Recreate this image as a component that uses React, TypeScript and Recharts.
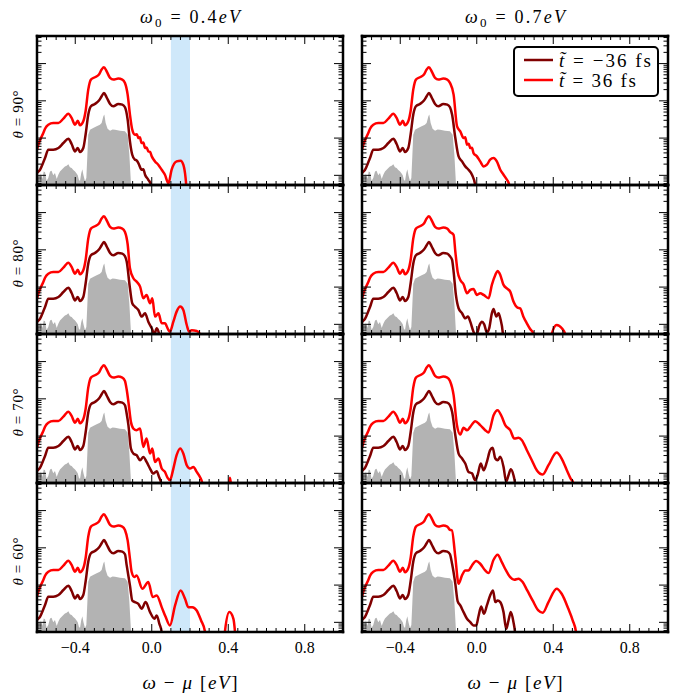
import React from 'react';
import { ComposedChart, Line, Area, XAxis, YAxis, ReferenceArea } from 'recharts';

// ---------- axes ----------
const X_DOMAIN: [number, number] = [-0.6, 1.0];
const X_MAJOR = [-0.4, 0.0, 0.4, 0.8];
const X_MAJOR_LABELS = ['\u22120.4', '0.0', '0.4', '0.8'];
const X_TICKS = [-0.6, -0.55, -0.5, -0.45, -0.4, -0.35, -0.3, -0.25, -0.2, -0.15, -0.1, -0.05, 0, 0.05, 0.1, 0.15, 0.2, 0.25, 0.3, 0.35, 0.4, 0.45, 0.5, 0.55, 0.6, 0.65, 0.7, 0.75, 0.8, 0.85, 0.9, 0.95, 1.0];
const Y_MIN = 0.055;
const Y_MAX = 550;
const Y_MAJOR = [0.1, 1, 10, 100];
const Y_TICKS = [0.06, 0.07, 0.08, 0.09, 0.1, 0.2, 0.3, 0.4, 0.5, 0.6, 0.7, 0.8, 0.9, 1, 2, 3, 4, 5, 6, 7, 8, 9, 10, 20, 30, 40, 50, 60, 70, 80, 90, 100, 200, 300, 400, 500];
const BAND = [0.1, 0.2];

const COLUMN_TITLES = ['0.4', '0.7'];
const ROW_ANGLES = ['90', '80', '70', '60'];
const SERIES_NAMES = ['\u221236 fs', '36 fs'];

// ---------- data (log10 of intensity) ----------
const BASE_X = [-0.6, -0.593, -0.584, -0.567, -0.558, -0.541, -0.515, -0.488, -0.462, -0.436, -0.419, -0.401, -0.387, -0.375, -0.358, -0.346, -0.332, -0.318, -0.297, -0.276, -0.262, -0.25, -0.236, -0.218, -0.201, -0.175, -0.154, -0.14];
const BASE_RED = [-0.312, -0.177, -0.05, 0.136, 0.25, 0.36, 0.405, 0.405, 0.522, 0.656, 0.54, 0.36, 0.468, 0.342, 0.45, 0.719, 1.301, 1.57, 1.633, 1.705, 1.839, 1.902, 1.794, 1.615, 1.57, 1.597, 1.57, 1.481];
const BASE_DARK = [-0.939, -0.9, -0.85, -0.65, -0.536, -0.312, -0.312, -0.267, -0.133, -0.016, -0.159, -0.357, -0.267, -0.375, -0.267, 0.091, 0.629, 0.853, 0.916, 1.006, 1.122, 1.212, 1.095, 0.916, 0.853, 0.916, 0.898, 0.826];

const GREY: [number, number][] = [[-0.6, -1.12], [-0.595, -1.05], [-0.588, -1.2], [-0.58, -0.95], [-0.572, -1.1], [-0.565, -0.9], [-0.558, -0.92], [-0.55, -1.15], [-0.541, -1.07], [-0.532, -0.9], [-0.524, -0.88], [-0.515, -1.0], [-0.506, -0.94], [-0.497, -1.1], [-0.488, -0.98], [-0.48, -0.9], [-0.471, -0.85], [-0.462, -0.8], [-0.454, -0.76], [-0.445, -0.74], [-0.436, -0.7], [-0.428, -0.78], [-0.419, -0.8], [-0.41, -0.86], [-0.401, -0.9], [-0.393, -0.95], [-0.387, -1.0], [-0.381, -1.12], [-0.375, -1.15], [-0.369, -0.95], [-0.363, -0.84], [-0.357, -1.0], [-0.349, -1.16], [-0.342, -1.07], [-0.337, -0.5], [-0.332, 0.09], [-0.323, 0.226], [-0.306, 0.27], [-0.288, 0.315], [-0.271, 0.36], [-0.262, 0.405], [-0.253, 0.584], [-0.248, 0.63], [-0.241, 0.405], [-0.231, 0.253], [-0.218, 0.2], [-0.205, 0.23], [-0.192, 0.226], [-0.179, 0.21], [-0.166, 0.2], [-0.153, 0.19], [-0.14, 0.18], [-0.126, 0.09], [-0.117, -0.45], [-0.109, -1.2], [-0.105, -1.26]];

const L1_RED_TAIL: [number, number][] = [[-0.126, 1.167], [-0.114, 0.629], [-0.102, 0.226], [-0.088, 0.091], [-0.078, 0.1], [-0.07, 0.002], [-0.062, 0.02], [-0.053, -0.133], [-0.044, -0.12], [-0.035, -0.267], [-0.027, -0.25], [-0.018, -0.357], [-0.009, -0.37], [0.0, -0.491], [0.017, -0.626], [0.034, -0.715], [0.052, -0.85], [0.069, -0.984], [0.087, -1.22], [0.104, -0.85], [0.13, -0.626], [0.151, -0.608], [0.165, -0.715], [0.177, -1.074], [0.19, -2.0]];
const L1_DARK_TAIL: [number, number][] = [[-0.126, 0.495], [-0.114, -0.088], [-0.102, -0.447], [-0.088, -0.581], [-0.079, -0.6], [-0.07, -0.671], [-0.053, -0.85], [-0.044, -0.84], [-0.035, -0.984], [-0.018, -1.119], [-0.004, -1.253], [0.01, -2]];

const L2_RED_TAIL: [number, number][] = [[-0.126, 1.15], [-0.114, 0.506], [-0.096, 0.237], [-0.079, 0.147], [-0.061, 0.013], [-0.044, -0.301], [-0.027, -0.211], [-0.009, -0.435], [0.003, -0.301], [0.017, -0.793], [0.035, -0.704], [0.052, -0.973], [0.069, -0.973], [0.087, -1.152], [0.095, -1.197], [0.113, -0.928], [0.13, -0.659], [0.149, -0.524], [0.165, -0.614], [0.183, -1.018], [0.195, -1.197], [0.209, -1.16], [0.235, -1.179], [0.252, -1.26], [0.265, -2]];
const L2_DARK_TAIL: [number, number][] = [[-0.131, 0.685], [-0.114, -0.032], [-0.102, -0.435], [-0.088, -0.525], [-0.07, -0.614], [-0.053, -0.793], [-0.035, -0.704], [-0.018, -0.928], [0.0, -1.107], [0.014, -1.26], [0.026, -1.107], [0.038, -1.26], [0.05, -2]];

const L3_RED_TAIL: [number, number][] = [[-0.131, 1.25], [-0.122, 0.92], [-0.109, 0.383], [-0.096, 0.203], [-0.079, 0.158], [-0.061, 0.203], [-0.044, -0.29], [-0.027, -0.066], [-0.009, -0.469], [0.003, -0.335], [0.017, -0.693], [0.035, -0.603], [0.052, -0.872], [0.069, -0.962], [0.083, -1.123], [0.095, -1.186], [0.113, -0.872], [0.13, -0.514], [0.149, -0.335], [0.165, -0.469], [0.183, -0.783], [0.2, -0.872], [0.218, -0.827], [0.235, -0.962], [0.252, -1.096], [0.264, -1.26], [0.275, -2], [0.395, -2], [0.409, -1.12], [0.423, -2]];
const L3_DARK_TAIL: [number, number][] = [[-0.131, 0.6], [-0.122, 0.293], [-0.109, -0.335], [-0.096, -0.469], [-0.079, -0.514], [-0.061, -0.648], [-0.044, -0.559], [-0.027, -0.693], [-0.009, -0.872], [0.008, -1.007], [0.026, -0.944], [0.038, -1.096], [0.049, -1.26], [0.06, -2]];

const L4_RED_TAIL: [number, number][] = [[-0.126, 1.2], [-0.114, 0.708], [-0.105, 0.35], [-0.091, 0.215], [-0.079, 0.259], [-0.049, -0.1], [-0.018, 0.08], [0.005, -0.323], [0.026, -0.278], [0.052, -0.592], [0.073, -0.86], [0.095, -1.085], [0.122, -0.547], [0.151, -0.144], [0.174, -0.368], [0.191, -0.592], [0.212, -0.592], [0.235, -0.681], [0.258, -0.95], [0.278, -1.237], [0.29, -2], [0.37, -2], [0.383, -1.237], [0.406, -0.726], [0.427, -0.905], [0.435, -1.237], [0.445, -2]];
const L4_DARK_TAIL: [number, number][] = [[-0.131, 0.53], [-0.114, -0.009], [-0.102, -0.413], [-0.088, -0.457], [-0.07, -0.502], [-0.053, -0.636], [-0.032, -0.457], [-0.009, -0.726], [0.014, -0.905], [0.026, -0.816], [0.04, -1.04], [0.052, -1.26], [0.062, -2]];

const R1_RED_TAIL: [number, number][] = [[-0.121, 1.167], [-0.103, 0.315], [-0.086, 0.181], [-0.069, 0.002], [-0.06, 0.02], [-0.051, -0.177], [-0.042, -0.15], [-0.034, -0.267], [-0.025, -0.26], [-0.017, -0.402], [0.001, -0.491], [0.018, -0.626], [0.036, -0.76], [0.053, -0.715], [0.07, -0.581], [0.088, -0.536], [0.105, -0.626], [0.123, -0.85], [0.14, -0.984], [0.158, -1.119], [0.17, -1.26], [0.18, -2]];
const R1_DARK_TAIL: [number, number][] = [[-0.129, 0.63], [-0.112, 0.002], [-0.095, -0.491], [-0.077, -0.626], [-0.06, -0.76], [-0.043, -0.85], [-0.025, -0.984], [-0.008, -1.26], [0.005, -2]];

const R2_RED_TAIL: [number, number][] = [[-0.121, 1.402], [-0.112, 0.952], [-0.1, 0.416], [-0.086, 0.192], [-0.069, 0.076], [-0.051, -0.166], [-0.034, -0.076], [-0.017, -0.05], [0.001, -0.211], [0.018, -0.166], [0.036, -0.211], [0.062, -0.3], [0.079, 0.058], [0.097, 0.327], [0.109, 0.434], [0.123, 0.327], [0.14, 0.058], [0.161, -0.05], [0.175, -0.122], [0.192, -0.39], [0.213, -0.552], [0.227, -0.57], [0.244, -0.794], [0.262, -0.973], [0.279, -1.125], [0.297, -1.26], [0.31, -2], [0.38, -2], [0.392, -1.26], [0.418, -1.017], [0.445, -1.107], [0.462, -1.26], [0.475, -2]];
const R2_DARK_TAIL: [number, number][] = [[-0.129, 0.73], [-0.121, 0.416], [-0.109, -0.211], [-0.095, -0.569], [-0.077, -0.704], [-0.06, -0.838], [-0.046, -0.793], [-0.034, -0.928], [-0.017, -1.197], [-0.003, -1.3], [0.015, -1.017], [0.027, -0.928], [0.039, -1.0], [0.053, -1.215], [0.065, -1.107], [0.079, -0.704], [0.088, -0.587], [0.102, -0.793], [0.114, -0.704], [0.123, -0.838], [0.137, -1.26], [0.147, -2]];

const R3_RED_TAIL: [number, number][] = [[-0.121, 1.1], [-0.1035, 0.293], [-0.086, 0.043], [-0.069, 0.221], [-0.051, 0.159], [-0.034, 0.248], [-0.008, 0.4], [0.018, 0.293], [0.044, 0.159], [0.062, 0.096], [0.088, 0.562], [0.109, 0.696], [0.131, 0.517], [0.149, 0.293], [0.175, 0.159], [0.196, -0.066], [0.218, -0.048], [0.236, -0.11], [0.262, -0.379], [0.288, -0.648], [0.314, -0.917], [0.345, -1.034], [0.375, -0.782], [0.418, -0.441], [0.444, -0.603], [0.471, -0.917], [0.491, -1.141], [0.505, -1.26], [0.515, -2]];
const R3_DARK_TAIL: [number, number][] = [[-0.129, 0.652], [-0.112, 0.024], [-0.095, -0.469], [-0.077, -0.603], [-0.06, -0.738], [-0.043, -0.962], [-0.025, -1.0], [-0.008, -1.186], [0.004, -1.052], [0.021, -0.738], [0.036, -0.917], [0.053, -0.693], [0.07, -0.379], [0.083, -0.316], [0.097, -0.603], [0.109, -0.648], [0.123, -0.558], [0.14, -0.827], [0.154, -1.23], [0.166, -1.052], [0.178, -0.89], [0.192, -1.052], [0.2, -1.26], [0.21, -2]];

const R4_RED_TAIL: [number, number][] = [[-0.13, 1.47], [-0.112, 0.752], [-0.095, 0.035], [-0.077, 0.259], [-0.06, 0.393], [-0.043, 0.393], [-0.025, 0.528], [-0.003, 0.645], [0.018, 0.573], [0.044, 0.393], [0.062, 0.322], [0.088, 0.681], [0.109, 0.815], [0.131, 0.617], [0.153, 0.393], [0.175, 0.214], [0.196, 0.143], [0.218, 0.17], [0.24, 0.08], [0.264, -0.144], [0.292, -0.413], [0.322, -0.682], [0.345, -0.744], [0.375, -0.457], [0.418, -0.099], [0.444, -0.233], [0.479, -0.637], [0.502, -0.951], [0.519, -1.26], [0.53, -2]];
const R4_DARK_TAIL: [number, number][] = [[-0.129, 0.573], [-0.112, 0.035], [-0.1, -0.43], [-0.086, -0.547], [-0.069, -0.726], [-0.051, -0.905], [-0.034, -0.995], [-0.017, -1.084], [-0.003, -1.084], [0.01, -0.816], [0.023, -0.574], [0.038, -0.771], [0.053, -0.547], [0.07, -0.278], [0.085, -0.144], [0.097, -0.457], [0.109, -0.413], [0.123, -0.457], [0.14, -0.726], [0.154, -1.174], [0.166, -0.951], [0.178, -0.726], [0.192, -0.995], [0.2, -1.26], [0.21, -2]];

// ---------- helpers ----------
type Pt = { x: number; v: number };
const fromLog = (pairs: [number, number][]): Pt[] => pairs.map(([x, l]) => ({ x, v: Math.pow(10, l) }));
const baseRed: [number, number][] = BASE_X.map((x, i) => [x, BASE_RED[i]]);
const baseDark: [number, number][] = BASE_X.map((x, i) => [x, BASE_DARK[i]]);
const redSeries = (tail: [number, number][]) => fromLog([...baseRed, ...tail]);
const darkSeries = (tail: [number, number][]) => fromLog([...baseDark, ...tail]);
const GREY_PTS = fromLog(GREY);

const COL_LEFT = [37, 362];
const ROW_TOP = [36, 185, 334, 483];
const PW = 306;
const PH = 149;

const PANELS = [
  { col: 0, row: 0, red: L1_RED_TAIL, dark: L1_DARK_TAIL },
  { col: 0, row: 1, red: L2_RED_TAIL, dark: L2_DARK_TAIL },
  { col: 0, row: 2, red: L3_RED_TAIL, dark: L3_DARK_TAIL },
  { col: 0, row: 3, red: L4_RED_TAIL, dark: L4_DARK_TAIL },
  { col: 1, row: 0, red: R1_RED_TAIL, dark: R1_DARK_TAIL },
  { col: 1, row: 1, red: R2_RED_TAIL, dark: R2_DARK_TAIL },
  { col: 1, row: 2, red: R3_RED_TAIL, dark: R3_DARK_TAIL },
  { col: 1, row: 3, red: R4_RED_TAIL, dark: R4_DARK_TAIL },
];

const FONT = "'Liberation Serif', 'DejaVu Serif', serif";
const DARK = '#800000';
const RED = '#ff0000';
const AXIS_LINE = { stroke: '#000', strokeWidth: 2.5, strokeLinecap: 'square' as const };

const makeXTick = (side: 'top' | 'bottom', labels: boolean) => (props: any) => {
  const { x, y, payload } = props;
  const mi = X_MAJOR.findIndex((m) => Math.abs(m - payload.value) < 1e-6);
  const len = mi >= 0 ? 8 : 4;
  const dir = side === 'bottom' ? -1 : 1;
  return (
    <g>
      <line x1={x} x2={x} y1={y} y2={y + dir * len} stroke="#000" strokeWidth={1} />
      {labels && mi >= 0 && (
        <text x={x} y={y + 21} textAnchor="middle" fontFamily={FONT} fontSize={16} fill="#000">
          {X_MAJOR_LABELS[mi]}
        </text>
      )}
    </g>
  );
};

const makeYTick = (side: 'left' | 'right') => (props: any) => {
  const { x, y, payload } = props;
  const major = Y_MAJOR.some((m) => Math.abs(m - payload.value) / m < 1e-6);
  const len = major ? 9 : 4.5;
  const dir = side === 'left' ? 1 : -1;
  return <line x1={x} x2={x + dir * len} y1={y} y2={y} stroke="#000" strokeWidth={1} />;
};

function Panel({ col, row, red, dark }: { col: number; row: number; red: [number, number][]; dark: [number, number][] }) {
  const pad = 4;
  const labels = row === 3;
  const extra = labels ? 30 : 0;
  const left = COL_LEFT[col];
  const top = ROW_TOP[row];
  return (
    <div style={{ position: 'absolute', left: left - pad, top: top - pad }}>
      <ComposedChart width={PW + 2 * pad} height={PH + 2 * pad + extra} margin={{ top: pad, right: pad, bottom: pad + extra, left: pad }}>
        <XAxis xAxisId="b" dataKey="x" type="number" domain={X_DOMAIN} allowDataOverflow ticks={X_TICKS} interval={0} orientation="bottom" mirror height={1} tickSize={0} tickMargin={0} tickLine={false} axisLine={AXIS_LINE} tick={makeXTick('bottom', labels)} />
        <XAxis xAxisId="t" dataKey="x" type="number" domain={X_DOMAIN} allowDataOverflow ticks={X_TICKS} interval={0} orientation="top" mirror height={1} tickSize={0} tickMargin={0} tickLine={false} axisLine={AXIS_LINE} tick={makeXTick('top', false)} />
        <YAxis yAxisId="l" type="number" scale="log" domain={[Y_MIN, Y_MAX]} allowDataOverflow ticks={Y_TICKS} interval={0} orientation="left" mirror width={1} tickSize={0} tickMargin={0} tickLine={false} axisLine={AXIS_LINE} tick={makeYTick('left')} />
        <YAxis yAxisId="r" type="number" scale="log" domain={[Y_MIN, Y_MAX]} allowDataOverflow ticks={Y_TICKS} interval={0} orientation="right" mirror width={1} tickSize={0} tickMargin={0} tickLine={false} axisLine={AXIS_LINE} tick={makeYTick('right')} />
        {col === 0 && (
          <ReferenceArea xAxisId="b" yAxisId="l" x1={BAND[0]} x2={BAND[1]} y1={Y_MIN} y2={Y_MAX} fill="#cfe8fa" fillOpacity={1} stroke="none" ifOverflow="hidden" />
        )}
        <Area xAxisId="b" yAxisId="l" data={GREY_PTS} dataKey="v" type="linear" stroke="none" fill="#b3b3b3" fillOpacity={1} baseValue={Y_MIN} isAnimationActive={false} />
        <Line xAxisId="b" yAxisId="l" data={darkSeries(dark)} dataKey="v" name={SERIES_NAMES[0]} stroke={DARK} strokeWidth={2.5} dot={false} type="monotone" isAnimationActive={false} />
        <Line xAxisId="b" yAxisId="l" data={redSeries(red)} dataKey="v" name={SERIES_NAMES[1]} stroke={RED} strokeWidth={2.5} dot={false} type="monotone" isAnimationActive={false} />
      </ComposedChart>
    </div>
  );
}

export default function App() {
  const colCenter = COL_LEFT.map((l) => l + PW / 2);
  return (
    <div style={{ position: 'absolute', left: 0, top: 0, width: 677, height: 696, background: '#fff' }}>
      {PANELS.map((p) => (
        <Panel key={`${p.col}-${p.row}`} {...p} />
      ))}
      <svg width={677} height={696} style={{ position: 'absolute', left: 0, top: 0, pointerEvents: 'none' }}>
        {COLUMN_TITLES.map((t, i) => (
          <text key={`t${i}`} x={colCenter[i]} y={23} textAnchor="middle" fontFamily={FONT} fontSize={18} fill="#000" textLength={100} lengthAdjust="spacing" style={{ whiteSpace: 'pre' }}>
            <tspan fontStyle="italic">ω</tspan>
            <tspan fontSize={13} dy={4}>0</tspan>
            <tspan dy={-4}>{` = ${t}`}</tspan>
            <tspan fontStyle="italic">eV</tspan>
          </text>
        ))}
        {colCenter.map((cx, i) => (
          <text key={`xl${i}`} x={cx} y={689} textAnchor="middle" fontFamily={FONT} fontSize={19} fill="#000" textLength={95} lengthAdjust="spacing" style={{ whiteSpace: 'pre' }}>
            <tspan fontStyle="italic">ω</tspan>
            <tspan>{' \u2212 '}</tspan>
            <tspan fontStyle="italic">μ</tspan>
            <tspan>{' ['}</tspan>
            <tspan fontStyle="italic">eV</tspan>
            <tspan>]</tspan>
          </text>
        ))}
        {ROW_ANGLES.map((a, i) => (
          <text key={`yl${i}`} transform={`translate(23, ${ROW_TOP[i] + PH / 2 + 4}) rotate(-90)`} textAnchor="middle" fontFamily={FONT} fontSize={15} fill="#000" textLength={48} lengthAdjust="spacing" style={{ whiteSpace: 'pre' }}>
            <tspan fontStyle="italic">θ</tspan>
            <tspan>{` = ${a}°`}</tspan>
          </text>
        ))}
        <g>
          <rect x={514} y={47} width={144} height={49} rx={4} ry={4} fill="#fff" stroke="#000" strokeWidth={2} />
          <line x1={524} x2={553} y1={60} y2={60} stroke={DARK} strokeWidth={2.5} />
          <line x1={524} x2={553} y1={80} y2={80} stroke={RED} strokeWidth={2.5} />
          <text x={559} y={66.5} fontFamily={FONT} fontSize={19} fill="#000" textLength={92} lengthAdjust="spacing" style={{ whiteSpace: 'pre' }}>
            <tspan fontStyle="italic">{'t\u0303'}</tspan>
            <tspan>{` = ${SERIES_NAMES[0]}`}</tspan>
          </text>
          <text x={559} y={86.5} fontFamily={FONT} fontSize={19} fill="#000" textLength={77} lengthAdjust="spacing" style={{ whiteSpace: 'pre' }}>
            <tspan fontStyle="italic">{'t\u0303'}</tspan>
            <tspan>{` = ${SERIES_NAMES[1]}`}</tspan>
          </text>
        </g>
      </svg>
    </div>
  );
}
